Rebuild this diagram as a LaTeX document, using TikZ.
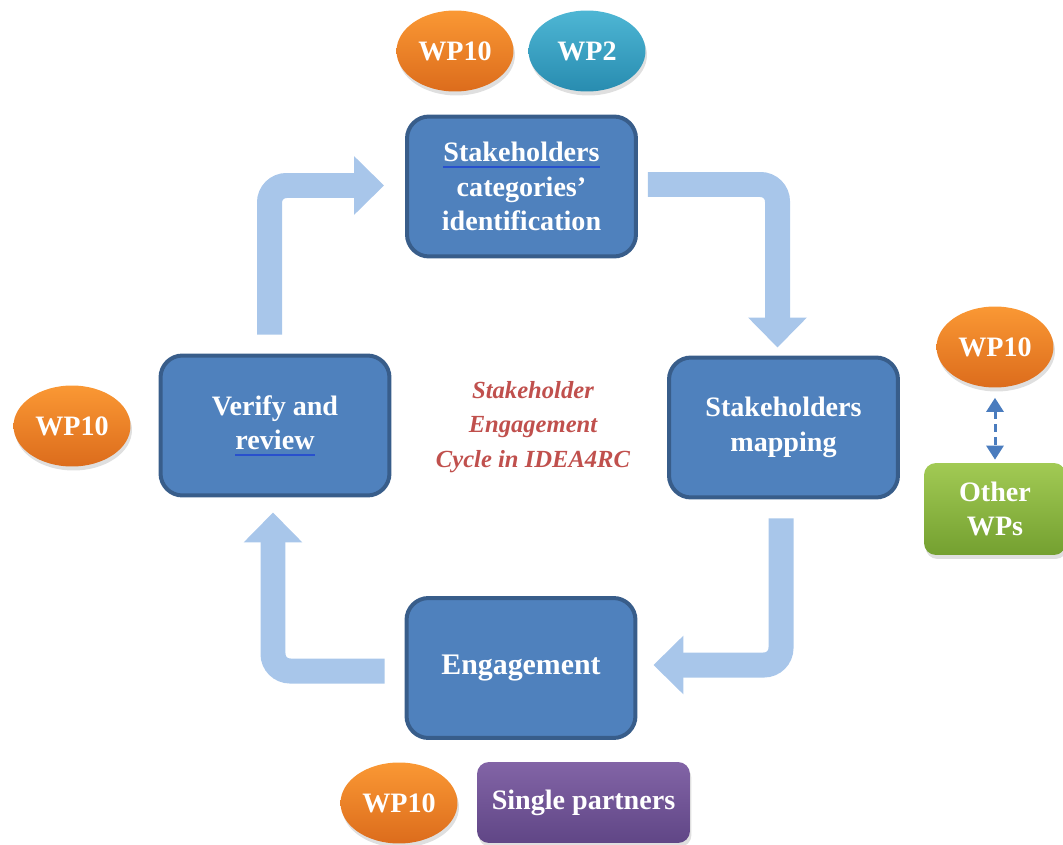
\documentclass[tikz,border=0pt]{standalone}
\usepackage{fontspec}
\setmainfont{Liberation Serif}
\usetikzlibrary{arrows.meta,shapes.geometric,shadows}

\definecolor{stagefill}{RGB}{79,129,189}
\definecolor{stageedge}{RGB}{56,93,138}
\definecolor{flowblue}{RGB}{168,198,234}
\definecolor{orangetop}{RGB}{250,152,52}
\definecolor{orangebot}{RGB}{220,108,28}
\definecolor{tealtop}{RGB}{78,182,212}
\definecolor{tealbot}{RGB}{40,140,176}
\definecolor{greentop}{RGB}{162,202,84}
\definecolor{greenbot}{RGB}{116,160,48}
\definecolor{purpletop}{RGB}{130,100,166}
\definecolor{purplebot}{RGB}{96,70,134}
\definecolor{titlered}{RGB}{192,80,77}
\definecolor{ulblue}{RGB}{40,80,205}
\definecolor{linkblue}{RGB}{74,124,190}

% blue underline under a word
\newcommand{\blueunder}[1]{\setbox0\hbox{#1}\rlap{\textcolor{ulblue}{\rule[-3.6pt]{\wd0}{1.1pt}}}\box0}

\begin{document}
\begin{tikzpicture}[x=0.02cm,y=-0.02cm,
  txt/.style={text=white,font=\fontsize{16}{19.6}\selectfont\bfseries,align=center},
  stage/.style={txt,rectangle,rounded corners=0.44cm,draw=stageedge,line width=0.08cm,
    fill=stagefill,minimum width=4.58cm,minimum height=2.8cm,inner sep=0pt},
  wp/.style={txt,ellipse,inner sep=0pt,minimum width=2.34cm,minimum height=1.62cm,
    drop shadow={opacity=0.25,shadow xshift=0.03cm,shadow yshift=-0.08cm}},
  wporange/.style={wp,top color=orangetop,bottom color=orangebot},
  wpteal/.style={wp,top color=tealtop,bottom color=tealbot},
  tag/.style={txt,rectangle,rounded corners=0.24cm,inner sep=0pt,
    drop shadow={opacity=0.25,shadow xshift=0.03cm,shadow yshift=-0.08cm}},
  flow/.style={draw=flowblue,line width=0.5cm,rounded corners=0.34cm,
    -{Triangle[width=1.14cm,length=0.6cm]}},
  link/.style={draw=linkblue,line width=0.06cm,dash pattern=on 0.16cm off 0.1cm,
    {Triangle[width=0.34cm,length=0.28cm]}-{Triangle[width=0.34cm,length=0.28cm]}}
]
\useasboundingbox (0,0) rectangle (1063,845);

% the four stages of the cycle
\node[stage] (ident) at (521.5,186.5) {\blueunder{Stakeholders}\\categories’\\identification};
\node[stage] (mapping) at (783.5,427.5) {Stakeholders\\mapping};
\node[stage,font=\fontsize{17}{20}\selectfont\bfseries] (engage) at (521,668) {Engagement};
\node[stage] (verify) at (275,425.5) {Verify and\\\blueunder{review}};

% cycle title
\node[text=titlered,font=\fontsize{14}{19.8}\selectfont\bfseries\itshape,align=center]
  (title) at (533,427) {Stakeholder\\Engagement\\Cycle in IDEA4RC};

% work packages and partners
\node[wporange] (wpident) at (455,51) {WP10};
\node[wpteal] (wptwo) at (587,51) {WP2};
\node[wporange] (wpverify) at (72,426) {WP10};
\node[wporange] (wpmap) at (995,347) {WP10};
\node[wporange] (wpengage) at (399,803) {WP10};
\node[tag,top color=greentop,bottom color=greenbot,minimum width=2.84cm,minimum height=1.84cm]
  (otherwp) at (995,509) {Other\\WPs};
\node[tag,top color=purpletop,bottom color=purplebot,minimum width=4.26cm,minimum height=1.62cm]
  (partners) at (583.5,802.5) {Single partners};

% cycle arrows
\draw[flow,shorten <=0.38cm,shorten >=0.42cm] ([xshift=-0.11cm]verify.north) |- ([yshift=0.02cm]ident.west);
\draw[flow,shorten <=0.2cm,shorten >=0.16cm] ([yshift=0.04cm]ident.east) -| ([xshift=-0.12cm]mapping.north);
\draw[flow,shorten <=0.38cm,shorten >=0.32cm] ([xshift=-0.05cm]mapping.south) |- ([yshift=0.06cm]engage.east);
\draw[flow,shorten <=0.4cm,shorten >=0.3cm] ([yshift=-0.06cm]engage.west) -| ([xshift=-0.04cm]verify.south);

% link between WP10 and the other work packages
\draw[link,shorten <=0.2cm,shorten >=0.06cm] (wpmap.south) -- (otherwp.north);
\end{tikzpicture}
\end{document}
